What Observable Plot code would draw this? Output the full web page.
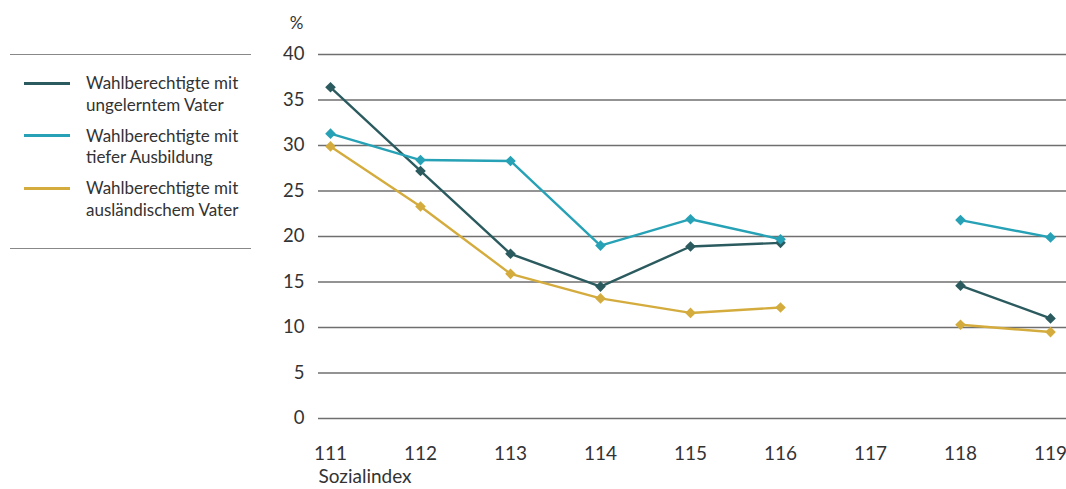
<!DOCTYPE html>
<html lang="de">
<head>
<meta charset="utf-8">
<script src="https://cdn.jsdelivr.net/npm/d3@7"></script>
<script src="https://cdn.jsdelivr.net/npm/@observablehq/plot@0.6"></script>
<style>
  html, body { margin: 0; padding: 0; background: #fff; overflow: hidden; }
  body { width: 1066px; height: 489px; position: relative; font-family: Lato, "Open Sans", sans-serif; color: #333; }
  #chart { position: absolute; left: 0; top: 0; width: 1080px; }
  #chart svg { max-width: none !important; width: 1080px !important; height: 489px !important; }
  #legend { position: absolute; left: 10px; top: 54px; width: 241px; height: 195px;
            border-top: 1.5px solid #888; border-bottom: 1.5px solid #888; box-sizing: border-box; }
  .swatch { position: absolute; left: 14px; width: 46px; height: 3px; }
  .label { position: absolute; left: 76px; font-size: 17px; line-height: 21.5px; white-space: nowrap; color: #333; }
</style>
</head>
<body>
<div id="chart"></div>
<div id="legend"></div>
<script>
// Sozialindex categories and shares (%) of eligible voters per group
const sozialindex = [111, 112, 113, 114, 115, 116, 117, 118, 119];
const ungelernterVater = [36.4, 27.2, 18.1, 14.5, 18.9, 19.3, null, 14.6, 11.0];
const tiefeAusbildung = [31.3, 28.4, 28.3, 19.0, 21.9, 19.7, null, 21.8, 19.9];
const auslaendischerVater = [29.9, 23.3, 15.9, 13.2, 11.6, 12.2, null, 10.3, 9.5];
const yTicks = [0, 5, 10, 15, 20, 25, 30, 35, 40];

const series = [
  {name: "Wahlberechtigte mit\nungelerntem Vater", values: ungelernterVater, color: "#2b5b5f"},
  {name: "Wahlberechtigte mit\ntiefer Ausbildung", values: tiefeAusbildung, color: "#26a1b5"},
  {name: "Wahlberechtigte mit\nausländischem Vater", values: auslaendischerVater, color: "#d4ac3e"}
];

const rows = series.flatMap(s => sozialindex.map((x, i) => ({series: s.name, x, y: s.values[i], color: s.color})));
const present = rows.filter(d => d.y != null);

const font = "Lato, 'Open Sans', sans-serif";

const chart = Plot.plot({
  width: 1080,
  height: 489,
  marginLeft: 318,
  marginRight: 0,
  marginTop: 54,
  marginBottom: 71,
  style: {fontFamily: font, fontSize: "18px", color: "#333", background: "transparent", overflow: "visible"},
  x: {domain: [111 - 12 / 90, 119 + 30 / 90], ticks: sozialindex, tickFormat: d => String(d)},
  y: {domain: [0, 40], ticks: yTicks},
  marks: [
    Plot.ruleY(yTicks, {stroke: "#6f6f6f", strokeWidth: 1.4}),
    Plot.axisY({ticks: yTicks, tickSize: 0, tickPadding: 14, label: null, fontSize: 18.5}),
    Plot.axisX({ticks: sozialindex, tickSize: 0, tickPadding: 28, label: null, fontSize: 19, tickFormat: d => String(d)}),
    Plot.text(["%"], {frameAnchor: "top-left", dx: -15, dy: -26, lineAnchor: "bottom", textAnchor: "end", fontSize: 17, fill: "#333"}),
    Plot.text(["Sozialindex"], {frameAnchor: "bottom-left", dy: 64, textAnchor: "start", fontSize: 19, fill: "#333"}),
    ...series.map(s =>
      Plot.line(rows.filter(d => d.series === s.name), {x: "x", y: "y", stroke: s.color, strokeWidth: 2.4})
    ),
    ...series.map(s =>
      Plot.dot(present.filter(d => d.series === s.name), {x: "x", y: "y", symbol: "diamond2", r: 4.8, fill: s.color, stroke: "none"})
    )
  ]
});
document.getElementById("chart").appendChild(chart);

// Legend built from the same series definitions
const legend = document.getElementById("legend");
series.forEach((s, i) => {
  const top = 22 + i * 52.5;
  const sw = document.createElement("div");
  sw.className = "swatch";
  sw.style.top = (top + 4.5) + "px";
  sw.style.background = s.color;
  legend.appendChild(sw);
  const lab = document.createElement("div");
  lab.className = "label";
  lab.style.top = (top - 5) + "px";
  lab.innerHTML = s.name.split("\n").join("<br>");
  legend.appendChild(lab);
});
</script>
</body>
</html>
